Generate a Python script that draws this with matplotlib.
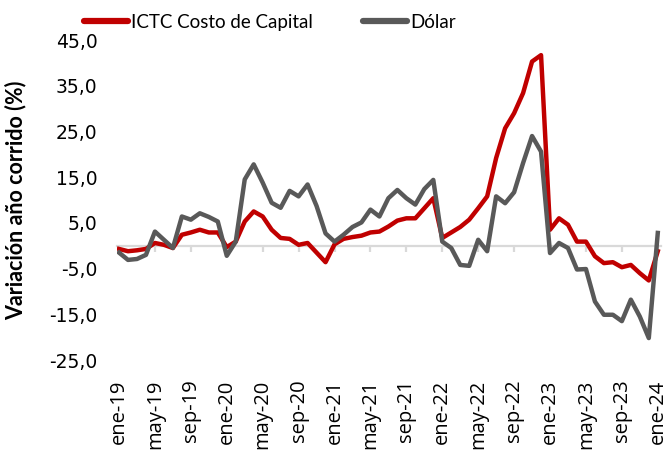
import matplotlib
matplotlib.use('Agg')
import matplotlib.pyplot as plt

# ── datos: variación año corrido (%), mensual ene-19 .. ene-24 ──
meses = ['ene', 'feb', 'mar', 'abr', 'may', 'jun', 'jul', 'ago', 'sep', 'oct', 'nov', 'dic']
fechas = [f'{m}-{a}' for a in range(19, 24) for m in meses] + ['ene-24']

ictc = [-0.7, -1.2, -1.0, -0.7, 0.6, 0.2, -0.5, 2.4, 2.9, 3.5, 2.9, 2.9,
        -0.3, 0.9, 5.3, 7.5, 6.4, 3.5, 1.7, 1.5, 0.2, 0.6, -1.5, -3.6,
        0.3, 1.5, 1.9, 2.2, 2.9, 3.1, 4.2, 5.5, 6.0, 6.0, 8.2, 10.4,
        1.7, 2.9, 4.1, 5.7, 8.2, 10.8, 19.2, 25.7, 29.0, 33.4, 40.3, 41.7,
        3.5, 6.0, 4.6, 0.9, 0.9, -2.3, -3.8, -3.6, -4.7, -4.2, -6.0, -7.6,
        -1.2]
dolar = [-1.5, -3.1, -2.9, -2.0, 3.1, 1.3, -0.5, 6.4, 5.7, 7.1, 6.3, 5.3,
         -2.2, 0.9, 14.5, 17.8, 13.8, 9.4, 8.3, 12.0, 10.8, 13.4, 8.7, 2.7,
         0.9, 2.4, 4.1, 5.1, 7.9, 6.4, 10.4, 12.2, 10.4, 9.0, 12.4, 14.4,
         0.9, -0.5, -4.2, -4.4, 1.3, -1.2, 10.8, 9.3, 11.7, 18.1, 24.0, 20.6,
         -1.6, 0.6, -0.5, -5.2, -5.1, -12.2, -15.1, -15.1, -16.5, -11.8, -15.5, -20.2,
         2.8]
y_ticks = [-25, -15, -5, 5, 15, 25, 35, 45]

plt.rcParams['font.family'] = ['DejaVu Sans']

ROJO = '#C00000'
GRIS = '#595959'
EJE = '#D9D9D9'

fig = plt.figure(figsize=(6.65, 4.5), dpi=100)
ax = fig.add_axes([0.176, 0.2, 0.818, 0.711])

x = range(len(fechas))
ax.plot(x, ictc, color=ROJO, lw=3.2, label='ICTC Costo de Capital')
ax.plot(x, dolar, color=GRIS, lw=3.2, label='Dólar')

ax.set_ylim(-25, 45)
ax.set_xlim(-0.22, 60.36)
ax.set_yticks(y_ticks)
ax.set_yticklabels([f'{v:.1f}'.replace('.', ',') for v in y_ticks], fontsize=13.5)
ax.tick_params(axis='y', length=0, pad=14)

# eje horizontal en cero, con marcas cada 4 meses
pos = list(range(0, len(fechas), 4))
for s in ['top', 'right', 'left']:
    ax.spines[s].set_visible(False)
ax.spines['bottom'].set_position(('data', 0))
ax.spines['bottom'].set_color(EJE)
ax.spines['bottom'].set_linewidth(1.6)
ax.spines['bottom'].set_zorder(0)
ax.set_xticks(pos)
ax.tick_params(axis='x', direction='out', length=4, width=1.6, color=EJE, labelbottom=False)

sec = ax.secondary_xaxis('bottom')
sec.set_xticks(pos)
sec.set_xticklabels([fechas[i] for i in pos], rotation=90, fontsize=14.5,
                    family='Open Sans', va='top')
sec.tick_params(length=0, pad=14)
sec.spines['bottom'].set_visible(False)

ax.set_ylabel('Variación año corrido (%)', fontsize=15.5, fontweight='bold', family='Lato')
ax.yaxis.set_label_coords(-0.166, 0.5)

leg = fig.legend(loc='center left', bbox_to_anchor=(0.112, 0.951), ncol=2, frameon=False,
                 handlelength=2.35, handletextpad=0.16, columnspacing=2.7, borderpad=0,
                 prop={'family': 'Lato', 'size': 13.5})
for h in leg.get_lines():
    h.set_linewidth(4.5)
    h.set_solid_capstyle('round')

fig.savefig('out.png', dpi=100, facecolor='white')
